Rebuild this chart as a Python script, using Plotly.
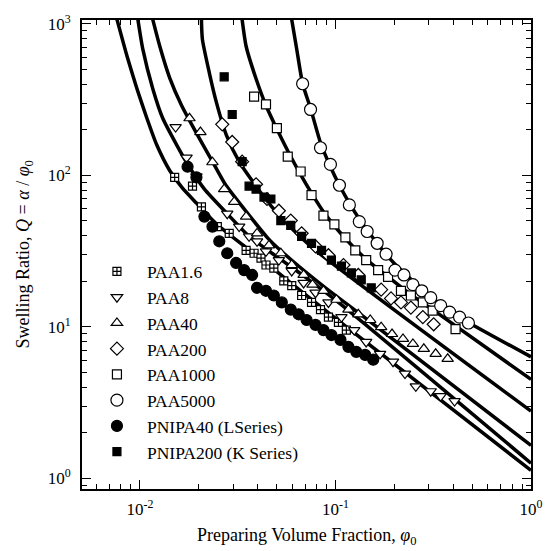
import plotly.graph_objects as go

# ---------------- data ----------------
# Theory curves (PAA series)
c1_x = [0.00764, 0.00859, 0.00966, 0.01086, 0.01219, 0.0142, 0.01652, 0.01946, 0.02489, 0.03493, 0.04842, 0.06716, 0.1036, 1.0]
c1_q = [1065, 613, 373, 238, 159, 107.6, 82.2, 65.6, 47.2, 33.4, 24.0, 17.1, 11.0, 1.13]
c2_x = [0.00977, 0.01035, 0.01164, 0.01309, 0.01541, 0.01794, 0.02138, 0.02797, 0.03617, 0.05136, 0.06874, 0.1036, 1.0]
c2_q = [1065, 680, 373, 238, 159, 113, 81.1, 55.8, 39.6, 28.4, 21.7, 14.5, 1.26]
c3_x = [0.01164, 0.01264, 0.0142, 0.01634, 0.01946, 0.0232, 0.02732, 0.03412, 0.04571, 0.05977, 0.0889, 0.1309, 1.0]
c3_q = [1065, 711, 440, 289, 190, 127, 87.3, 60.0, 37.8, 27.5, 18.1, 12.4, 1.65]
c4_x = [0.02064, 0.02088, 0.02265, 0.02462, 0.02766, 0.03219, 0.03927, 0.04732, 0.05977, 0.07908, 1.0]
c4_q = [1065, 789, 475, 303, 185, 123, 84.8, 62.0, 44.5, 32.0, 2.78]
c5_x = [0.03333, 0.03493, 0.03927, 0.04414, 0.05018, 0.0577, 0.06639, 0.07546, 0.08684, 0.1124, 0.1436, 0.1858, 0.2431, 0.3142, 1.0]
c5_q = [1065, 711, 434, 289, 202, 141, 101, 76.2, 57.4, 38.3, 27.9, 21.4, 16.3, 13.0, 4.50]
c6_x = [0.05977, 0.06339, 0.06795, 0.07458, 0.08386, 0.09426, 0.1048, 0.1178, 0.1324, 0.1634, 0.2017, 0.2489, 0.3071, 0.3836, 0.4787, 1.0]
c6_q = [1065, 680, 402, 277, 164, 114, 86.0, 65.6, 51.6, 35.6, 25.9, 20.1, 15.8, 12.8, 10.7, 6.34]

# Measured data
paa1_6_x = [0.01506, 0.01858, 0.02064, 0.02489, 0.02863, 0.03493, 0.03837, 0.04162, 0.04414, 0.04842, 0.05443, 0.05977, 0.06716, 0.07546, 0.08386, 0.09209, 0.1036, 0.1137]
paa1_6_q = [97.0, 84.8, 62.0, 45.9, 41.4, 32.0, 30.6, 28.4, 25.6, 24.4, 20.1, 18.7, 16.1, 14.5, 13.0, 11.6, 10.7, 9.52]
paa8_x = [0.01523, 0.01732, 0.01946, 0.02797, 0.03219, 0.03617, 0.03973, 0.04414, 0.05136, 0.05977, 0.06874, 0.07908, 0.09209, 0.1073, 0.1248, 0.1436, 0.1692, 0.1970, 0.2268, 0.2576, 0.3071, 0.3452, 0.4066]
paa8_q = [208, 131, 98.4, 55.8, 45.9, 39.6, 36.7, 31.5, 27.6, 23.4, 19.5, 16.8, 14.5, 11.6, 9.52, 7.95, 6.64, 5.89, 4.92, 4.05, 3.76, 3.49, 3.24]
paa40_x = [0.01794, 0.02040, 0.02350, 0.02698, 0.03034, 0.03493, 0.03973, 0.04571, 0.05257, 0.05977, 0.06874, 0.07634, 0.08684, 0.1012, 0.1165, 0.1309, 0.1506, 0.1713, 0.1947, 0.2215, 0.2489, 0.2831, 0.3255, 0.3749]
paa40_q = [238, 193, 122, 81.1, 66.7, 53.4, 41.4, 34.5, 30.6, 25.6, 22.0, 19.0, 17.3, 15.1, 13.0, 12.1, 11.1, 9.96, 8.97, 8.32, 7.72, 7.16, 6.64, 6.15]
paa200_x = [0.02637, 0.02965, 0.03333, 0.03927, 0.04467, 0.05136, 0.05909, 0.06716, 0.07908, 0.09209, 0.1099, 0.1309, 0.1713, 0.1924, 0.2163, 0.2431, 0.2798, 0.3179]
paa200_q = [217, 166, 123, 87.3, 69.8, 58.4, 50.3, 41.4, 34.0, 29.7, 25.6, 22.0, 17.6, 15.4, 14.5, 13.4, 11.6, 10.4]
paa1000_x = [0.03837, 0.04414, 0.05018, 0.05704, 0.06639, 0.07546, 0.08684, 0.09876, 0.1124, 0.1263, 0.1436, 0.1653, 0.1858, 0.2163, 0.2431, 0.2798, 0.3142, 0.4113]
paa1000_q = [331, 294, 205, 133, 106, 74.1, 54.2, 47.4, 39.0, 32.0, 27.6, 23.7, 21.4, 17.3, 16.1, 14.5, 12.8, 9.67]
paa5000_x = [0.06795, 0.07458, 0.08386, 0.09426, 0.1048, 0.1178, 0.1324, 0.1453, 0.1634, 0.1815, 0.2017, 0.2241, 0.2489, 0.2765, 0.3071, 0.3452, 0.3836, 0.4311, 0.4787]
paa5000_q = [402, 272, 152, 118, 86.0, 63.8, 49.5, 42.6, 35.6, 30.2, 23.7, 22.0, 19.0, 17.3, 15.6, 13.8, 12.5, 11.6, 10.6]
pnipa40_x = [0.01753, 0.01946, 0.02138, 0.02350, 0.02547, 0.02797, 0.03105, 0.03412, 0.03749, 0.03973, 0.04414, 0.04842, 0.05318, 0.05909, 0.06487, 0.07120, 0.07908, 0.08684, 0.09537, 0.1061, 0.1165, 0.1278, 0.1419, 0.1560]
pnipa40_q = [114, 97.0, 53.4, 45.9, 36.7, 30.6, 26.4, 23.7, 22.0, 18.1, 17.3, 16.1, 14.5, 13.0, 12.1, 11.1, 10.3, 9.52, 8.83, 8.20, 7.38, 6.84, 6.53, 6.07]
pnipa200_x = [0.02698, 0.02965, 0.03333, 0.03617, 0.03927, 0.04312, 0.04677, 0.05257, 0.05909, 0.06716, 0.07546, 0.0849, 0.09537, 0.1073, 0.1206, 0.1355, 0.1524]
pnipa200_q = [447, 252, 123, 84.8, 81.1, 71.9, 69.8, 50.3, 46.7, 39.6, 35.6, 32.0, 27.6, 25.2, 22.7, 20.4, 18.1]

x_tick_vals = [0.01, 0.1, 1]
x_tick_text = ["10<sup>-2</sup>", "10<sup>-1</sup>", "10<sup>0</sup>"]
y_tick_vals = [1, 10, 100, 1000]
y_tick_text = ["10<sup>0</sup>", "10<sup>1</sup>", "10<sup>2</sup>", "10<sup>3</sup>"]

FONT = "Liberation Serif"

fig = go.Figure()

curves = [(c1_x, c1_q), (c2_x, c2_q), (c3_x, c3_q), (c4_x, c4_q), (c5_x, c5_q), (c6_x, c6_q)]
for cx, cq in curves:
    fig.add_trace(go.Scatter(x=cx, y=cq, mode="lines", showlegend=False,
                             line=dict(color="black", width=3.5, shape="spline", smoothing=0.6),
                             hoverinfo="skip"))

series = [
    ("PAA1.6", paa1_6_x, paa1_6_q, "square-cross", "white", 8),
    ("PAA8", paa8_x, paa8_q, "triangle-down", "white", 10),
    ("PAA40", paa40_x, paa40_q, "triangle-up", "white", 10),
    ("PAA200", paa200_x, paa200_q, "diamond", "white", 10),
    ("PAA1000", paa1000_x, paa1000_q, "square", "white", 9),
    ("PAA5000", paa5000_x, paa5000_q, "circle", "white", 12),
    ("PNIPA40 (LSeries)", pnipa40_x, pnipa40_q, "circle", "black", 11),
    ("PNIPA200 (K Series)", pnipa200_x, pnipa200_q, "square", "black", 8),
]
for name, sx, sq, sym, fill, size in series:
    fig.add_trace(go.Scatter(x=sx, y=sq, mode="markers", name=name,
                             marker=dict(symbol=sym, color=fill, size=size,
                                         line=dict(color="black", width=1.2))))

minor_x = [k * 10 ** e for e in (-3, -2, -1) for k in range(2, 10)]
minor_y = [k * 10 ** e for e in (-1, 0, 1, 2) for k in range(2, 10)]

axis_common = dict(type="log", showgrid=False, zeroline=False, showline=True,
                   linecolor="black", linewidth=1.6, mirror="allticks",
                   ticks="inside", ticklen=9, tickwidth=1.3, tickcolor="black",
                   tickmode="array",
                   tickfont=dict(family=FONT, size=17, color="black"))

fig.update_xaxes(**axis_common, range=[-2.296, 0], tickvals=x_tick_vals, ticktext=x_tick_text,
                 ticklabelstandoff=4,
                 minor=dict(tickmode="array", tickvals=minor_x, ticks="inside", ticklen=5,
                            tickwidth=1.2, tickcolor="black", showgrid=False))
fig.update_yaxes(**axis_common, range=[-0.07, 3.025], tickvals=y_tick_vals, ticktext=y_tick_text,
                 ticklabelstandoff=6,
                 minor=dict(tickmode="array", tickvals=minor_y, ticks="inside", ticklen=5,
                            tickwidth=1.2, tickcolor="black", showgrid=False))

fig.add_annotation(text="Preparing Volume Fraction, <i>φ</i><sub>0</sub>", xref="paper", yref="paper",
                   x=0.5, y=-0.129, xanchor="center", yanchor="bottom", showarrow=False,
                   font=dict(family=FONT, size=18, color="black"))
fig.add_annotation(text="Swelling Ratio, <i>Q</i> = <i>α</i> / <i>φ</i><sub>0</sub>", xref="paper", yref="paper",
                   x=-0.127, y=0.5, xanchor="center", yanchor="middle", textangle=-90, showarrow=False,
                   font=dict(family=FONT, size=18, color="black"))

fig.update_layout(
    width=555, height=551,
    margin=dict(l=82, r=21, t=13, b=62),
    paper_bgcolor="white", plot_bgcolor="white",
    font=dict(family=FONT, size=17, color="black"),
    legend=dict(x=0.011, y=0.502, xanchor="left", yanchor="top",
                bgcolor="rgba(0,0,0,0)", borderwidth=0, itemwidth=50,
                font=dict(family=FONT, size=17.5, color="black"), tracegroupgap=0),
    showlegend=True,
)

fig.write_html("out.html")
